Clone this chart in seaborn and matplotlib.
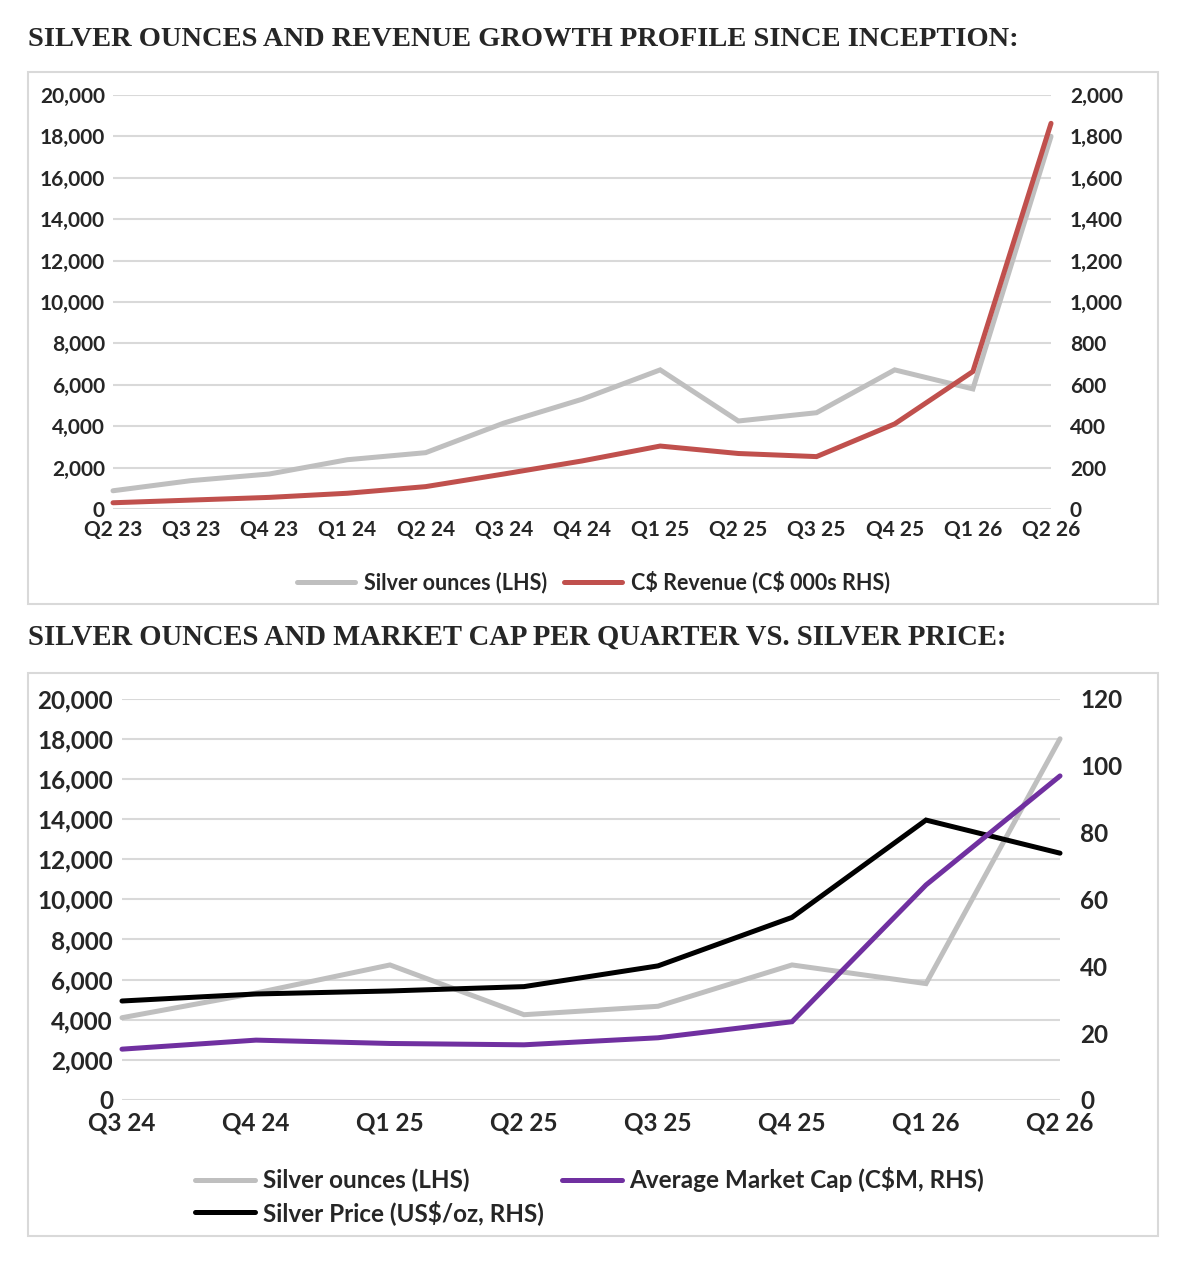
import matplotlib
matplotlib.use("Agg")
import matplotlib.pyplot as plt
import matplotlib.ticker as mtick
from matplotlib.patches import Rectangle
import seaborn as sns
import pandas as pd

# quarterly data
quarters_1 = ["Q2 23", "Q3 23", "Q4 23", "Q1 24", "Q2 24", "Q3 24", "Q4 24",
              "Q1 25", "Q2 25", "Q3 25", "Q4 25", "Q1 26", "Q2 26"]
silver_oz_1 = [880, 1370, 1690, 2380, 2720, 4150, 5300, 6720, 4250, 4650, 6720, 5800, 18000]
revenue = [30, 43, 56, 76, 108, 169, 232, 304, 268, 253, 411, 664, 1863]

quarters_2 = ["Q3 24", "Q4 24", "Q1 25", "Q2 25", "Q3 25", "Q4 25", "Q1 26", "Q2 26"]
silver_oz_2 = [4100, 5330, 6730, 4250, 4670, 6730, 5800, 18000]
silver_price = [29.6, 31.7, 32.6, 33.9, 40.1, 54.6, 83.7, 73.8]
market_cap = [15.2, 17.9, 16.9, 16.5, 18.6, 23.4, 64.3, 96.9]

GREY = "#bfbfbf"
RED = "#c0504d"
PURPLE = "#7030a0"
BLACK = "#000000"
GRID = "#d9d9d9"
LW = 3.6

sns.set_theme(style="white")
plt.rcParams["font.family"] = ["Lato", "DejaVu Sans"]
plt.rcParams["font.weight"] = "bold"

fig = plt.figure(figsize=(11.82, 12.68), dpi=100)

# panel frames
for y0, h in [(0.5237, 0.4196), (0.0252, 0.444)]:
    fig.patches.append(Rectangle((0.0237, y0), 0.956, h, transform=fig.transFigure,
                                 facecolor="none", edgecolor=GRID, linewidth=1.5))

fig.text(0.0237, 0.969, "SILVER OUNCES AND REVENUE GROWTH PROFILE SINCE INCEPTION:",
         family="Liberation Serif", fontweight="bold", fontsize=20.5, va="center", ha="left")
fig.text(0.0237, 0.4976, "SILVER OUNCES AND MARKET CAP PER QUARTER VS. SILVER PRICE:",
         family="Liberation Serif", fontweight="bold", fontsize=20.6, va="center", ha="left")


def style_axes(ax, ax2, n, lmax, rmax, rstep, fs, lpad, rpad, xpad):
    ax.set_xlim(0, n - 1)
    ax.set_ylim(0, lmax)
    ax2.set_ylim(0, rmax)
    ax.set_yticks(range(0, lmax + 1, 2000))
    ax2.set_yticks(range(0, rmax + 1, rstep))
    ax.yaxis.set_major_formatter(mtick.StrMethodFormatter("{x:,.0f}"))
    ax2.yaxis.set_major_formatter(mtick.StrMethodFormatter("{x:,.0f}"))
    ax.grid(axis="y", color=GRID, linewidth=1.5)
    ax.grid(axis="x", visible=False)
    ax2.grid(False)
    for a in (ax, ax2):
        for s in a.spines.values():
            s.set_visible(False)
        a.set_xlabel("")
        a.set_ylabel("")
    ax.tick_params(axis="y", length=0, labelsize=fs, pad=lpad)
    ax.tick_params(axis="x", length=0, labelsize=fs, pad=xpad)
    ax2.tick_params(axis="y", length=0, labelsize=fs, pad=rpad)
    for lab in ax.get_xticklabels() + ax.get_yticklabels() + ax2.get_yticklabels():
        lab.set_fontweight("bold")
    for a in (ax, ax2):
        for ln in a.get_lines():
            ln.set_clip_on(False)
            ln.set_solid_joinstyle("miter")


# ---- panel 1 ----
df1 = pd.DataFrame({"quarter": quarters_1, "silver": silver_oz_1, "revenue": revenue})
ax1 = fig.add_axes([0.0956, 0.5986, 0.7936, 0.3265])
ax1b = ax1.twinx()
sns.lineplot(data=df1, x="quarter", y="silver", ax=ax1, color=GREY, linewidth=LW,
             label="Silver ounces (LHS)", legend=False)
sns.lineplot(data=df1, x="quarter", y="revenue", ax=ax1b, color=RED, linewidth=LW,
             label="C\\$ Revenue (C\\$ 000s RHS)", legend=False)
style_axes(ax1, ax1b, len(quarters_1), 20000, 2000, 200, 15, 5.8, 13.5, 8)
h1 = ax1.get_lines()[:1] + ax1b.get_lines()[:1]
fig.legend(h1, [h.get_label() for h in h1], loc="center", bbox_to_anchor=(0.502, 0.541),
           ncol=2, frameon=False, handlelength=2.7, columnspacing=0.8,
           handletextpad=0.4, prop={"weight": "bold", "size": 15.5})

# ---- panel 2 ----
df2 = pd.DataFrame({"quarter": quarters_2, "silver": silver_oz_2,
                    "price": silver_price, "mcap": market_cap})
ax2 = fig.add_axes([0.1032, 0.1325, 0.7936, 0.3165])
ax2b = ax2.twinx()
sns.lineplot(data=df2, x="quarter", y="silver", ax=ax2, color=GREY, linewidth=LW,
             label="Silver ounces (LHS)", legend=False)
sns.lineplot(data=df2, x="quarter", y="price", ax=ax2b, color=BLACK, linewidth=LW,
             label="Silver Price (US\\$/oz, RHS)", legend=False)
sns.lineplot(data=df2, x="quarter", y="mcap", ax=ax2b, color=PURPLE, linewidth=LW,
             label="Average Market Cap (C\\$M, RHS)", legend=False)
style_axes(ax2, ax2b, len(quarters_2), 20000, 120, 20, 17.5, 6.5, 14.4, 8.5)
l2 = ax2.get_lines()[:1] + ax2b.get_lines()[:2]
fig.legend(l2, [h.get_label() for h in l2], loc="center", bbox_to_anchor=(0.499, 0.0568),
           ncol=2, frameon=False, handlelength=2.45, columnspacing=0.75,
           handletextpad=0.33, labelspacing=0.3, prop={"weight": "bold", "size": 17.5})

fig.savefig("out.png", dpi=100)
